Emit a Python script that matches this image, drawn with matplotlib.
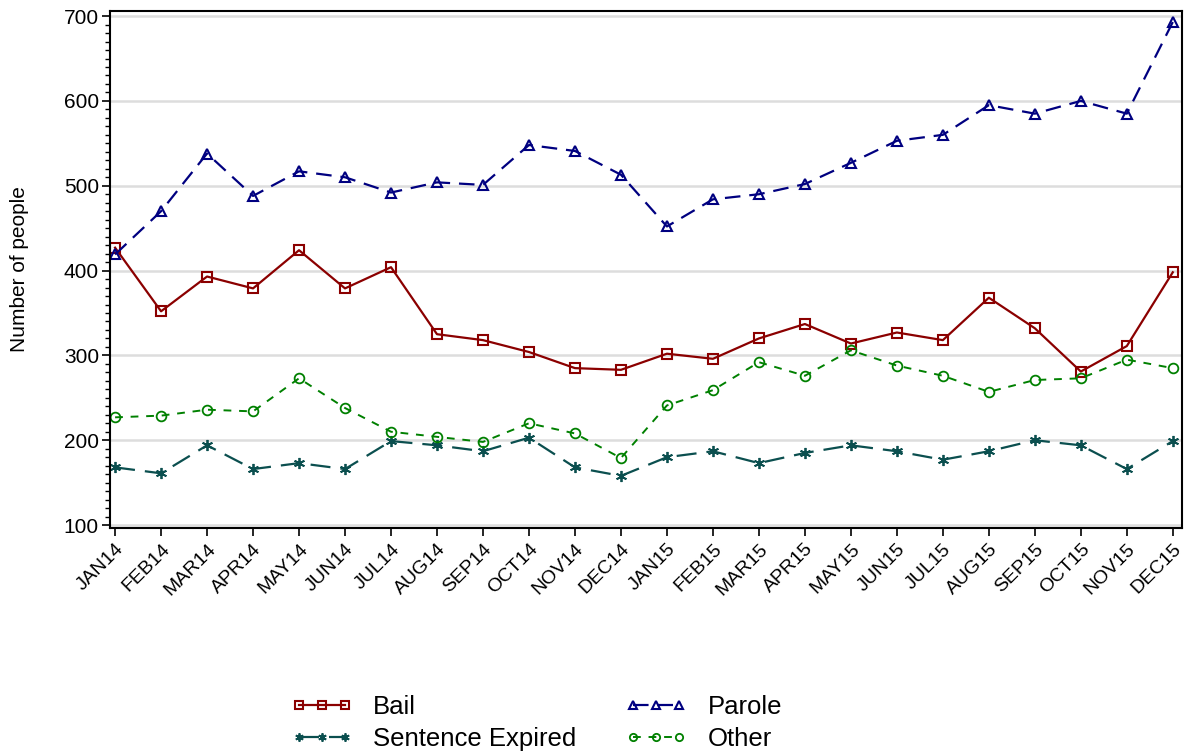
import matplotlib.pyplot as plt
from matplotlib.ticker import MultipleLocator

plt.rcParams['font.family'] = ['Liberation Sans', 'DejaVu Sans']

# months on the x axis
months = ["JAN14", "FEB14", "MAR14", "APR14", "MAY14", "JUN14", "JUL14", "AUG14",
          "SEP14", "OCT14", "NOV14", "DEC14", "JAN15", "FEB15", "MAR15", "APR15",
          "MAY15", "JUN15", "JUL15", "AUG15", "SEP15", "OCT15", "NOV15", "DEC15"]

# values
bail = [427, 352, 393, 379, 424, 379, 404, 325, 318, 304, 285, 283,
        302, 296, 320, 337, 314, 327, 318, 368, 332, 281, 311, 398]
parole = [419, 470, 538, 488, 517, 510, 492, 504, 501, 548, 541, 513,
          452, 484, 490, 502, 527, 553, 560, 595, 585, 600, 585, 693]
sentence_expired = [168, 161, 194, 166, 173, 166, 199, 194, 187, 203, 168, 158,
                    180, 187, 173, 185, 194, 187, 177, 187, 200, 194, 166, 199]
other = [227, 229, 236, 234, 273, 238, 210, 204, 198, 220, 208, 179,
         241, 259, 292, 276, 306, 288, 276, 257, 271, 273, 295, 285]

x = list(range(len(months)))

fig = plt.figure(figsize=(11.92, 7.54), dpi=100)
ax = fig.add_axes([0.0923, 0.2997, 0.8993, 0.6857])

l1, = ax.plot(x, bail, color="#8B0000", lw=1.6, marker="s", ms=7,
              mfc="none", mew=1.5, label="Bail")
l2, = ax.plot(x, parole, color="#000080", lw=1.6, ls=(0, (7, 4)), marker="^", ms=7,
              mfc="none", mew=1.5, label="Parole")
l3, = ax.plot(x, sentence_expired, color="#0B4F4F", lw=1.6, ls=(0, (9, 4.5)),
              marker=(6, 2, 0), ms=8, mew=1.3, label="Sentence Expired")
l4, = ax.plot(x, other, color="#008000", lw=1.4, ls=(0, (4, 4)), marker="o", ms=7,
              mfc="none", mew=1.3, label="Other")

ax.set_xlim(-0.11, 23.2)
ax.set_ylim(96.5, 706)
ax.set_xticks(x)
ax.set_xticklabels(months, rotation=45, ha="right", rotation_mode="anchor", fontsize=14)
ax.yaxis.set_major_locator(MultipleLocator(100))
ax.yaxis.set_minor_locator(MultipleLocator(10))
ax.tick_params(axis="y", labelsize=15, length=6, width=1.2, pad=2)
ax.tick_params(axis="y", which="minor", length=3.5, width=1)
ax.tick_params(axis="x", length=6, width=1.2, pad=3)
ax.grid(axis="y", color="#DDDDDD", lw=1.8)
ax.set_axisbelow(True)
for s in ax.spines.values():
    s.set_linewidth(1.5)
ax.set_ylabel("Number of people", fontsize=15, labelpad=25)

fig.legend(handles=[l1, l3, l2, l4], ncol=2, loc="center",
           bbox_to_anchor=(0.45, 0.041), frameon=False, fontsize=18.5,
           numpoints=3, markerscale=0.75,
           handlelength=2.4, columnspacing=1.9, labelspacing=0.28,
           handletextpad=0.8)

fig.savefig("out.png", dpi=100)
